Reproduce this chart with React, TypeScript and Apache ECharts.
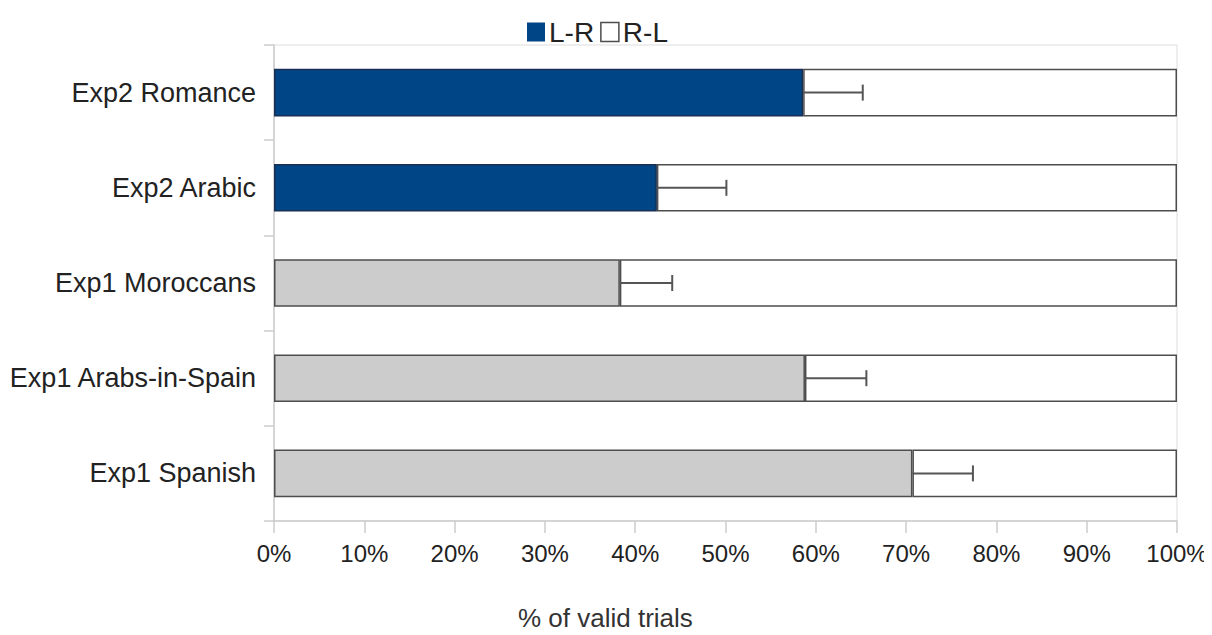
import React, { useEffect, useRef } from "react";
import * as echarts from "echarts";

// Categories bottom -> top
const categories = [
  "Exp1 Spanish",
  "Exp1 Arabs-in-Spain",
  "Exp1 Moroccans",
  "Exp2 Arabic",
  "Exp2 Romance",
];
const experiment = ["Exp1", "Exp1", "Exp1", "Exp2", "Exp2"];
const lrValues = [70.7, 58.8, 38.3, 42.4, 58.6];
const rlValues = [29.3, 41.2, 61.7, 57.6, 41.4];
const errUpper = [77.4, 65.6, 44.1, 50.1, 65.2];
const xTickLabels = ["0%", "10%", "20%", "30%", "40%", "50%", "60%", "70%", "80%", "90%", "100%"];

const FONT = "'Liberation Sans', Arial, sans-serif";
const BLUE = "#004586";
const GRAY = "#cccccc";
const EDGE = "#4d4d4d";

export default function App() {
  const ref = useRef<HTMLDivElement>(null);
  useEffect(() => {
    if (!ref.current) return;
    const chart = echarts.init(ref.current, null, { renderer: "svg" });
    chart.setOption({
      animation: false,
      backgroundColor: "#ffffff",
      textStyle: { fontFamily: FONT },
      title: {
        text: "% of valid trials",
        left: 518,
        top: 605,
        padding: 0,
        textStyle: { fontFamily: FONT, fontSize: 26, fontWeight: "normal", color: "#333" },
      },
      legend: {
        top: 18,
        left: 527,
        padding: 0,
        itemWidth: 18,
        itemHeight: 19,
        itemGap: 6,
        textStyle: { fontFamily: FONT, fontSize: 28, color: "#222", padding: [0, 0, 0, -1] },
        data: [
          { name: "L-R", icon: "rect", itemStyle: { color: BLUE, borderColor: BLUE, borderWidth: 0 } },
          { name: "R-L", icon: "rect", itemStyle: { color: "#fff", borderColor: EDGE, borderWidth: 1.5 } },
        ],
      },
      grid: {
        left: 274,
        right: 35,
        top: 45,
        bottom: 114,
        outerBoundsMode: "none",
        containLabel: false,
        show: true,
        borderColor: "#dddddd",
        borderWidth: 1,
      },
      xAxis: {
        type: "value",
        min: 0,
        max: 100,
        interval: 10,
        axisLine: { show: true, lineStyle: { color: "#cccccc", width: 1.5 } },
        axisTick: { show: true, length: 12, lineStyle: { color: "#cccccc", width: 1.5 } },
        splitLine: { show: false },
        axisLabel: {
          margin: 20,
          fontFamily: FONT,
          fontSize: 24,
          color: "#222",
          formatter: (v: number) => xTickLabels[Math.round(v / 10)],
        },
      },
      yAxis: {
        type: "category",
        data: categories,
        axisLine: { show: true, lineStyle: { color: "#cccccc", width: 1.5 } },
        axisTick: { show: true, length: 10, lineStyle: { color: "#cccccc", width: 1.5 } },
        axisLabel: { margin: 18, fontFamily: FONT, fontSize: 27, color: "#222" },
      },
      series: [
        {
          name: "L-R",
          type: "bar",
          stack: "total",
          barWidth: "50%",
          itemStyle: { color: BLUE, borderColor: EDGE, borderWidth: 1.5 },
          data: lrValues.map((v, i) => ({
            value: v,
            itemStyle: {
              color: experiment[i] === "Exp2" ? BLUE : GRAY,
              borderColor: experiment[i] === "Exp2" ? "#1a2f55" : EDGE,
            },
          })),
        },
        {
          name: "R-L",
          type: "bar",
          stack: "total",
          barWidth: "50%",
          itemStyle: { color: "#ffffff", borderColor: EDGE, borderWidth: 1.5 },
          data: rlValues,
        },
        {
          name: "err",
          type: "custom",
          z: 10,
          encode: { x: [0, 1], y: 2 },
          data: categories.map((_, i) => [lrValues[i], errUpper[i], i]),
          renderItem: (params: any, api: any) => {
            const y = api.value(2);
            const s = api.coord([api.value(0), y]);
            const e = api.coord([api.value(1), y]);
            const h = 8;
            const style = { stroke: "#555555", lineWidth: 2 };
            return {
              type: "group",
              children: [
                { type: "line", shape: { x1: s[0], y1: s[1], x2: e[0], y2: e[1] }, style },
                { type: "line", shape: { x1: e[0], y1: e[1] - h, x2: e[0], y2: e[1] + h }, style },
              ],
            };
          },
        },
      ],
    });
    return () => chart.dispose();
  }, []);
  return <div ref={ref} style={{ width: 1212, height: 635, margin: -8 }} />;
}
